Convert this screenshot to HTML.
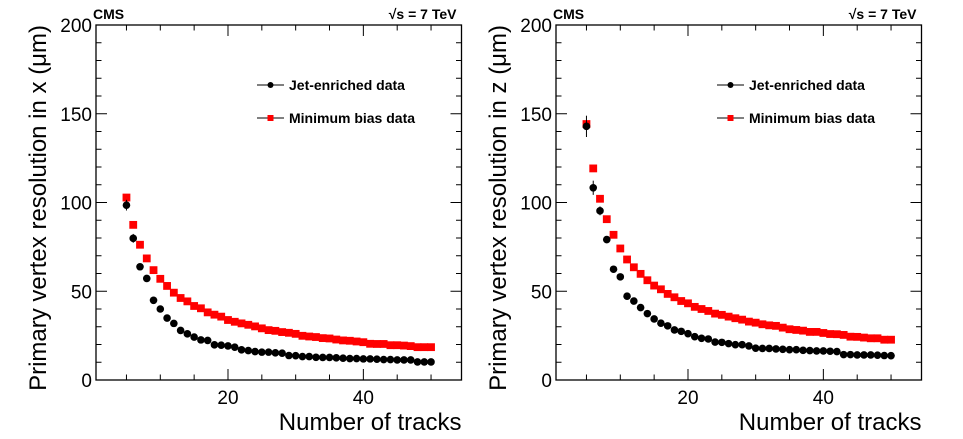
<!DOCTYPE html>
<html><head><meta charset="utf-8"><style>
body{margin:0;background:#fff;}
svg{display:block;font-family:"Liberation Sans",sans-serif;}
</style></head><body>
<svg id="c" width="963" height="439" xmlns="http://www.w3.org/2000/svg"></svg>
<script>
const tracks = [5,6,7,8,9,10,11,12,13,14,15,16,17,18,19,20,21,22,23,24,25,26,27,28,29,30,31,32,33,34,35,36,37,38,39,40,41,42,43,44,45,46,47,48,49,50];
const jetX = [98.5,79.8,63.8,57.2,44.9,40,34.9,31.9,27.9,26,24.2,22.6,22.3,19.8,19.6,19.2,18.5,17,16.6,16,15.7,15.7,15.3,15.1,13.8,13.7,13.2,13.2,12.8,12.7,12.7,12.5,12.3,12.1,12.1,11.9,11.9,11.7,11.5,11.5,11.3,11.3,11.3,10.2,10.2,10.2];
const jetXErr = [3,2.5,1.8,1,0.6,0.5,0.4,0.3,0.3,0.3,0.2,0.2,0.2,0.2,0.2,0.2,0.2,0.2,0.2,0.2,0.2,0.2,0.2,0.2,0.2,0.2,0.2,0.2,0.2,0.2,0.2,0.2,0.2,0.2,0.2,0.2,0.2,0.2,0.2,0.2,0.2,0.2,0.2,0.2,0.2,0.2];
const mbX = [102.8,87.4,76.2,68.5,61.9,57,53,49.2,46.2,44.3,41.7,40.4,38.1,36.8,35.7,33.8,32.8,31.9,31.1,30.2,29.1,28.1,27.7,27,26.6,26,24.9,24.5,24.2,23.6,23.4,22.8,22.3,22.1,21.7,21.3,20.4,20.3,20.3,19.6,19.6,19.4,19.1,18.5,18.5,18.5];
const jetZ = [142.9,108.3,95.3,79.1,62.4,58.1,47.2,44.5,40.8,37.4,34.4,32,30.5,28.2,27.4,26.1,24.4,23.5,23.1,21.4,21.2,20.5,19.9,19.9,19.2,17.9,17.8,17.8,17.5,17.3,17.1,17.1,16.7,16.6,16.4,16.4,16.2,16,14.3,14.3,14.1,14.1,14.1,14,13.8,13.7];
const jetZErr = [6,4,2.5,2,1,0.8,0.5,0.4,0.3,0.3,0.3,0.2,0.2,0.2,0.2,0.2,0.2,0.2,0.2,0.2,0.2,0.2,0.2,0.2,0.2,0.2,0.2,0.2,0.2,0.2,0.2,0.2,0.2,0.2,0.2,0.2,0.2,0.2,0.2,0.2,0.2,0.2,0.2,0.2,0.2,0.2];
const mbZ = [144.2,119.2,102.1,90.6,81.8,74.1,67.9,63.5,59.8,56.2,53.2,51.1,48.5,46.6,44.5,43.2,41.2,40,38.9,37.4,36.7,35.7,34.8,34,32.9,32.3,31.4,30.8,30.5,29.5,28.6,28.2,27.8,27.1,27.1,26.5,25.9,25.8,25.4,24.4,24.3,23.9,23.5,23.5,22.7,22.7];
const yTicks = [0,50,100,150,200];
const xTicks = [20,40];

const NS="http://www.w3.org/2000/svg";
const svg=document.getElementById('c');
function el(tag,attrs,parent,text){const e=document.createElementNS(NS,tag);for(const k in attrs)e.setAttribute(k,attrs[k]);if(text!==undefined)e.textContent=text;(parent||svg).appendChild(e);return e;}

function panel(off, coord, jet, jetErr, mb, pname){
  const L=96+off,R=461.5+off,T=25,B=380;
  const xs=v=>L+(v-0.5)*(R-L)/54;
  const ys=v=>B-v*(B-T)/200;
  const g=el('g',{});
  
  
  const fr=el('rect',{x:L,y:T,width:R-L,height:B-T,fill:'none',stroke:'#000','stroke-width':1.3},g);
  
  
  for(let v=0;v<=200;v+=10){
    const len=v%50===0?11:5.5;
    el('line',{x1:L,x2:L+len,y1:ys(v),y2:ys(v),stroke:'#000','stroke-width':1},g);
    el('line',{x1:R,x2:R-len,y1:ys(v),y2:ys(v),stroke:'#000','stroke-width':1},g);
  }
  for(let v=5;v<=54;v+=5){
    const len=v%20===0?11:5.5;
    el('line',{x1:xs(v),x2:xs(v),y1:B,y2:B-len,stroke:'#000','stroke-width':1},g);
    el('line',{x1:xs(v),x2:xs(v),y1:T,y2:T+len,stroke:'#000','stroke-width':1},g);
  }
  yTicks.forEach(v=>{
    const t=el('text',{x:L-4,y:ys(v)+7,'text-anchor':'end','font-size':19},g,String(v));
    
    
  });
  xTicks.forEach(v=>{
    const t=el('text',{x:xs(v),y:404,'text-anchor':'middle','font-size':19},g,String(v));
    
    
  });
  const xt=el('text',{x:R,y:430,'text-anchor':'end','font-size':24},g,'Number of tracks');
  
  
  const yt=el('text',{x:0,y:0,'text-anchor':'end','font-size':24,transform:`translate(${off+46},25) rotate(-90)`},g,`Primary vertex resolution in ${coord} (\u03bcm)`);
  
  
  const cms=el('text',{x:L-3,y:19,'font-size':14,'font-weight':'bold'},g,'CMS');
  
  
  const en=el('text',{x:R-5,y:19,'text-anchor':'end','font-size':14,'font-weight':'bold'},g,'\u221as = 7 TeV');
  
  
  tracks.forEach((t,i)=>{
    const m=el('rect',{x:xs(t)-3.9,y:ys(mb[i])-3.9,width:7.8,height:7.8,fill:'#f00'},g);
    
    
  });
  tracks.forEach((t,i)=>{
    if(jetErr[i]>0.5){el('line',{x1:xs(t),x2:xs(t),y1:ys(jet[i]-jetErr[i]),y2:ys(jet[i]+jetErr[i]),stroke:'#000','stroke-width':1},g);}
    const c=el('circle',{cx:xs(t),cy:ys(jet[i]),r:3.8,fill:'#000'},g);
    
    
  });
  const lg=el('g',{},g);
  
  
  el('line',{x1:257+off,x2:284+off,y1:85,y2:85,stroke:'#000','stroke-width':1},lg);
  el('circle',{cx:270.5+off,cy:85,r:3,fill:'#000'},lg);
  const l1=el('text',{x:289+off,y:90,'font-size':14,'font-weight':'bold'},lg,'Jet-enriched data');
  
  
  el('line',{x1:257+off,x2:284+off,y1:118,y2:118,stroke:'#000','stroke-width':1},lg);
  el('rect',{x:267.5+off,y:115,width:6,height:6,fill:'#f00'},lg);
  const l2=el('text',{x:289+off,y:123,'font-size':14,'font-weight':'bold'},lg,'Minimum bias data');
  
  
}
panel(0,'x',jetX,jetXErr,mbX,'panel-x-resolution');
panel(460,'z',jetZ,jetZErr,mbZ,'panel-z-resolution');
</script>
</body></html>
